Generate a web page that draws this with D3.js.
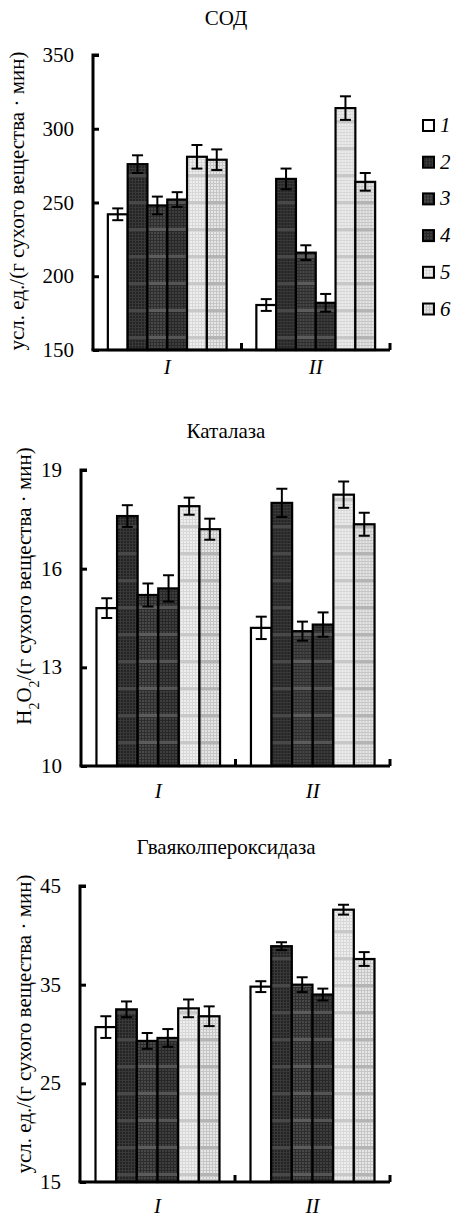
<!DOCTYPE html>
<html>
<head>
<meta charset="utf-8">
<script src="https://cdn.jsdelivr.net/npm/d3@7"></script>
<style>
  body { margin: 0; background: #fff; }
  svg text { font-family: "Liberation Serif", "Times New Roman", serif; fill: #000; }
</style>
</head>
<body>
<svg id="chart" width="451" height="1217"></svg>
<script>
// groups and series
var groups = ["I", "II"];
var series = ["1", "2", "3", "4", "5", "6"];

// СОД
var sodValues = [[242, 276, 248, 252, 281, 279], [180.5, 266, 216, 182, 314, 264]];
var sodErrors = [[4, 6, 6, 5, 8, 7], [4, 7, 5, 6, 8, 6]];
var sodTicks = [150, 200, 250, 300, 350];

// Каталаза
var catValues = [[14.8, 17.6, 15.2, 15.4, 17.9, 17.2], [14.2, 18.0, 14.1, 14.3, 18.25, 17.35]];
var catErrors = [[0.3, 0.33, 0.35, 0.4, 0.26, 0.32], [0.34, 0.43, 0.29, 0.37, 0.4, 0.35]];
var catTicks = [10, 13, 16, 19];

// Гваяколпероксидаза
var perValues = [[30.7, 32.5, 29.3, 29.6, 32.6, 31.8], [34.8, 38.9, 35.0, 34.0, 42.6, 37.6]];
var perErrors = [[1.1, 0.8, 0.8, 0.9, 0.9, 1.0], [0.55, 0.4, 0.75, 0.6, 0.5, 0.7]];
var perTicks = [15, 25, 35, 45];

var svg = d3.select("#chart");
var defs = svg.append("defs");

// fill textures for the six series: base, grid line, band colour
var looks = [
  null,
  {base: "#242424", line: "#383838", band: "#484848"},
  {base: "#484848", line: "#2e2e2e", band: "#5c5c5c"},
  {base: "#3e3e3e", line: "#282828", band: "#545454"},
  {base: "#eeeeee", line: "#d8d8d8", band: "#c8c8c8"},
  {base: "#e6e6e6", line: "#c6c6c6", band: "#b4b4b4"}
];

looks.forEach(function(l, i) {
  if (!l) return;
  var p = defs.append("pattern")
    .attr("id", "tex" + i)
    .attr("patternUnits", "userSpaceOnUse")
    .attr("width", 3).attr("height", 27);
  p.append("rect").attr("width", 3).attr("height", 27).attr("fill", l.base);
  p.append("rect").attr("x", 0).attr("width", 1).attr("height", 27).attr("fill", l.line);
  for (var k = 0; k < 9; k++) {
    p.append("rect").attr("y", k * 3).attr("width", 3).attr("height", 1).attr("fill", l.line);
  }
  p.append("rect").attr("y", 12).attr("width", 3).attr("height", 3).attr("fill", l.band);
});

function fillFor(i) { return i === 0 ? "#fff" : "url(#tex" + i + ")"; }

function drawChart(c) {
  var g = svg.append("g");

  var x = d3.scaleBand().domain(groups).range([c.x0, c.x1]).paddingInner(0).paddingOuter(0);
  var xs = d3.scaleBand().domain(series).range([x.bandwidth() * 0.1, x.bandwidth() * 0.9]);
  var y = d3.scaleLinear().domain(c.domain).range([c.yBot, c.yTop]);

  // title
  g.append("text")
    .attr("x", 226).attr("y", c.titleY)
    .attr("text-anchor", "middle")
    .style("font-size", "21px")
    .text(c.title);

  // bars
  var grp = g.selectAll(".grp")
    .data(groups)
    .enter().append("g")
    .attr("transform", function(d) { return "translate(" + x(d) + ",0)"; });

  grp.each(function(gname, gi) {
    var gg = d3.select(this);
    series.forEach(function(s, si) {
      var v = c.values[gi][si], e = c.errors[gi][si];
      var bx = xs(s), bw = xs.bandwidth();
      gg.append("rect")
        .attr("x", bx).attr("y", y(v))
        .attr("width", bw).attr("height", y(c.domain[0]) - y(v))
        .attr("fill", fillFor(si))
        .attr("stroke", "#000").attr("stroke-width", 2.2);
      var cx = bx + bw / 2;
      gg.append("line")
        .attr("x1", cx).attr("x2", cx)
        .attr("y1", y(v + e)).attr("y2", y(v - e))
        .attr("stroke", "#000").attr("stroke-width", 2);
      [v + e, v - e].forEach(function(t) {
        gg.append("line")
          .attr("x1", cx - 5.5).attr("x2", cx + 5.5)
          .attr("y1", y(t)).attr("y2", y(t))
          .attr("stroke", "#000").attr("stroke-width", 2);
      });
    });
  });

  // y axis
  var yAxis = d3.axisRight(y).tickValues(c.ticks).tickSize(6).tickFormat("");
  var ya = g.append("g").attr("transform", "translate(" + c.x0 + ",0)").call(yAxis);
  ya.select(".domain").attr("stroke-width", 3).attr("d", "M6," + c.yTop + "H0V" + c.yBot);
  ya.selectAll(".tick line").attr("stroke-width", 3);

  g.selectAll(".ylab")
    .data(c.ticks)
    .enter().append("text")
    .attr("x", c.x0 - 19).attr("y", function(d) { return y(d) + 7; })
    .attr("text-anchor", "end")
    .style("font-size", "21px")
    .text(function(d) { return d; });

  // x axis
  g.append("line")
    .attr("x1", c.x0 - 1.5).attr("x2", c.x1)
    .attr("y1", c.yBot).attr("y2", c.yBot)
    .attr("stroke", "#000").attr("stroke-width", 3);
  [x("II"), c.x1].forEach(function(px) {
    g.append("line")
      .attr("x1", px).attr("x2", px)
      .attr("y1", c.yBot).attr("y2", c.yBot - 7)
      .attr("stroke", "#000").attr("stroke-width", 3);
  });

  g.selectAll(".xlab")
    .data(groups)
    .enter().append("text")
    .attr("x", function(d) { return x(d) + x.bandwidth() / 2; })
    .attr("y", c.xLabY)
    .attr("text-anchor", "middle")
    .style("font-size", "21px").style("font-style", "italic")
    .text(function(d) { return d; });

  // y axis title
  var yt = g.append("text")
    .attr("transform", "translate(" + c.labX + "," + c.labY + ") rotate(-90)")
    .attr("text-anchor", "middle")
    .style("font-size", "21px");
  c.yTitle(yt);
}

drawChart({
  title: "СОД", titleY: 25,
  values: sodValues, errors: sodErrors, ticks: sodTicks, domain: [150, 350],
  x0: 93, x1: 390, yTop: 55, yBot: 350, xLabY: 374,
  labX: 24, labY: 201,
  yTitle: function(t) { t.text("усл. ед./(г сухого вещества · мин)"); }
});

drawChart({
  title: "Каталаза", titleY: 438,
  values: catValues, errors: catErrors, ticks: catTicks, domain: [10, 19],
  x0: 81, x1: 390, yTop: 470, yBot: 766, xLabY: 798,
  labX: 31, labY: 586,
  yTitle: function(t) {
    t.append("tspan").text("H");
    t.append("tspan").attr("baseline-shift", "sub").style("font-size", "14px").text("2");
    t.append("tspan").text("O");
    t.append("tspan").attr("baseline-shift", "sub").style("font-size", "14px").text("2");
    t.append("tspan").text("/(г сухого вещества · мин)");
  }
});

drawChart({
  title: "Гваяколпероксидаза", titleY: 854,
  values: perValues, errors: perErrors, ticks: perTicks, domain: [15, 45],
  x0: 80, x1: 390, yTop: 886, yBot: 1182, xLabY: 1213,
  labX: 31, labY: 1024,
  yTitle: function(t) { t.text("усл. ед./(г сухого вещества · мин)"); }
});

// legend
var legend = svg.selectAll(".leg")
  .data(series)
  .enter().append("g")
  .attr("transform", function(d, i) { return "translate(423," + (120 + i * 36.7) + ")"; });

legend.append("rect")
  .attr("width", 11).attr("height", 11)
  .attr("fill", function(d, i) { return fillFor(i); })
  .attr("stroke", "#000").attr("stroke-width", 2);

legend.append("text")
  .attr("x", 17).attr("y", 12)
  .style("font-size", "21px").style("font-style", "italic")
  .text(function(d) { return d; });
</script>
</body>
</html>
